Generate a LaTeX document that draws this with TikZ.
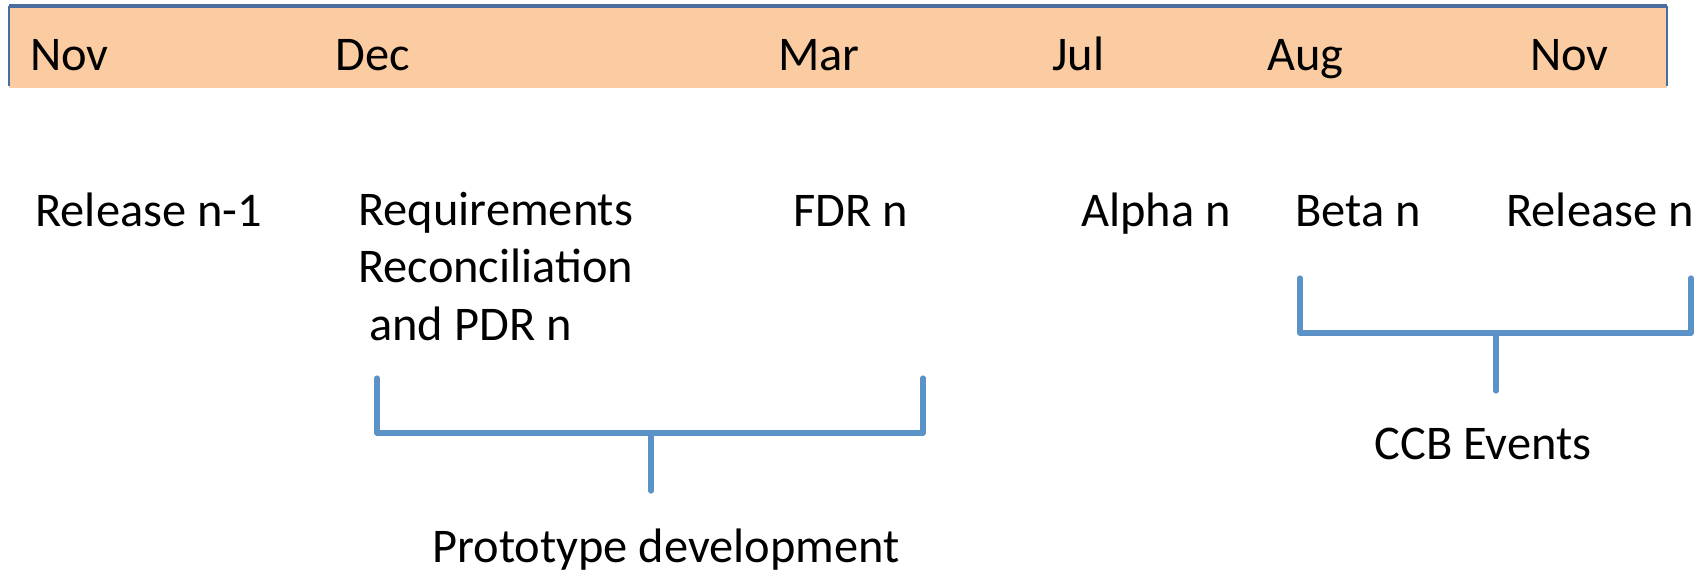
\documentclass[tikz,border=0pt]{standalone}
\usepackage{fontspec}
\setmainfont{Carlito}
\begin{document}
\begin{tikzpicture}[x=0.5pt,y=-0.5pt,
  lbl/.style={inner sep=0pt,anchor=base west,font=\fontsize{24.2}{28.75}\selectfont},
  brk/.style={draw=brkblue,line width=2.6pt,line cap=round,line join=round}]
\definecolor{barfill}{HTML}{FBCBA1}
\definecolor{barline}{HTML}{4A6F9E}
\definecolor{brkblue}{HTML}{5B92C8}
\useasboundingbox (0,0) rectangle (1704,575);
% month bar
\fill[barfill] (9,8) rectangle (1667,88);
\draw[barline,line width=1pt] (9,86) -- (9,7) -- (1667,7) -- (1667,86);
\draw[barline,line width=2.2pt] (9,6) -- (1667,6);
% months
\node[lbl] (m1) at (30,70) {Nov};
\node[lbl] (m2) at (335,70) {Dec};
\node[lbl] (m3) at (778,70) {Mar};
\node[lbl] (m4) at (1052,70) {Jul};
\node[lbl] (m5) at (1267,70) {Aug};
\node[lbl] (m6) at (1530,70) {Nov};
% milestones (the base of a multi-line node is its last line)
\node[lbl] (e1) at (35,226) {Release n-1};
\node[lbl,align=left] (e2) at (358,340) {Requirements\\Reconciliation\\\ and PDR n};
\node[lbl] (e3) at (793,226) {FDR n};
\node[lbl] (e4) at (1081,226) {Alpha n};
\node[lbl] (e5) at (1295,226) {Beta n};
\node[lbl] (e6) at (1506,226) {Release n};
% brackets
\coordinate (p1) at (377,378);
\coordinate (p2) at (923,378);
\coordinate (pm) at (651,433);
\coordinate (pe) at (651,491);
\draw[brk] (p1) |- (pm) -| (p2);
\draw[brk] (pm) -- (pe);
\node[lbl] (pt) at (432,562) {Prototype development};
\coordinate (c1) at (1300,278);
\coordinate (c2) at (1691,278);
\coordinate (cm) at (1496,333);
\coordinate (ce) at (1496,391);
\draw[brk] (c1) |- (cm) -| (c2);
\draw[brk] (cm) -- (ce);
\node[lbl] (ct) at (1374,459) {CCB Events};
\end{tikzpicture}
\end{document}
